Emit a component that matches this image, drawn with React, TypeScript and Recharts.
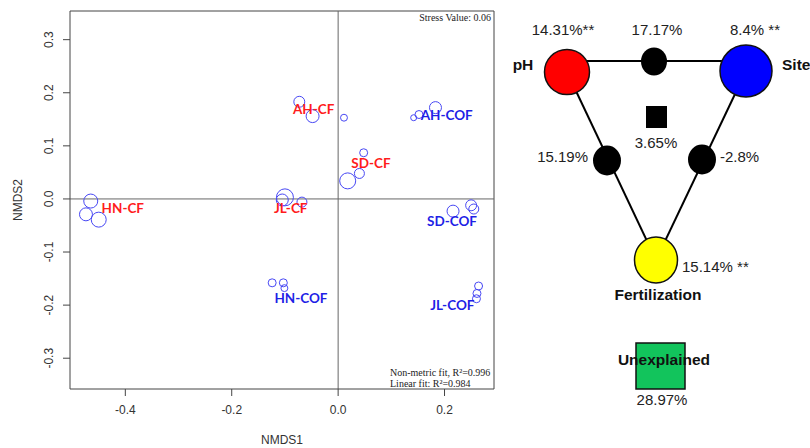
import React from "react";
import { ScatterChart, Scatter, XAxis, YAxis, ZAxis, ReferenceLine } from "recharts";

// NMDS sample scores: [NMDS1, NMDS2, weight]
const HN_CF = [[-0.465, -0.004, 49], [-0.474, -0.029, 42], [-0.45, -0.039, 56]];
const JL_CF = [[-0.1, 0.003, 72], [-0.105, -0.002, 36], [-0.068, -0.006, 25]];
const AH_CF = [[-0.073, 0.183, 30], [-0.048, 0.156, 42], [0.011, 0.153, 12]];
const SD_CF = [[0.048, 0.087, 16], [0.04, 0.048, 25], [0.018, 0.034, 64]];
const HN_COF = [[-0.124, -0.158, 16], [-0.103, -0.158, 16], [-0.101, -0.168, 12]];
const JL_COF = [[0.264, -0.164, 16], [0.261, -0.178, 16], [0.26, -0.188, 16]];
const AH_COF = [[0.142, 0.153, 9], [0.152, 0.159, 16], [0.183, 0.172, 36]];
const SD_COF = [[0.216, -0.023, 36], [0.25, -0.012, 30], [0.255, -0.019, 25]];

const groupNames = ["HN-CF", "JL-CF", "AH-CF", "SD-CF", "HN-COF", "JL-COF", "AH-COF", "SD-COF"];
const groupScores = [HN_CF, JL_CF, AH_CF, SD_CF, HN_COF, JL_COF, AH_COF, SD_COF];

const xTicks = [-0.4, -0.2, 0, 0.2];
const yTicks = [-0.3, -0.2, -0.1, 0, 0.1, 0.2, 0.3];

const stressValue = 0.06;
const nonMetricR2 = 0.996;
const linearR2 = 0.984;

// variation partitioning
const factorNames = ["pH", "Site", "Fertilization"];
const pureEffect = [14.31, 8.4, 15.14];
const pureSuffix = ["**", " **", " **"];
const sharedPhSite = 17.17;
const sharedPhFert = 15.19;
const sharedSiteFert = -2.8;
const sharedAll = 3.65;
const unexplained = 28.97;

// label nudges in px relative to group centroid
const labelNudge: Record<string, [number, number]> = {
  "HN-CF": [31, -4],
  "JL-CF": [1, 8],
  "AH-CF": [-5, -3],
  "SD-CF": [14, -6],
  "HN-COF": [21, 13],
  "JL-COF": [-25, 12],
  "AH-COF": [24, 2],
  "SD-COF": [-14, 13],
};

const X_DOMAIN: [number, number] = [-0.504, 0.293];
const Y_DOMAIN: [number, number] = [-0.358, 0.354];

const points = groupScores.flatMap((g, i) =>
  g.map(([x, y, z]) => ({ x, y, z, group: groupNames[i] }))
);

const centroids = groupScores.map((g, i) => ({
  x: g.reduce((s, p) => s + p[0], 0) / g.length,
  y: g.reduce((s, p) => s + p[1], 0) / g.length,
  group: groupNames[i],
}));

const fmt1 = (v: number) => (Math.abs(v) < 1e-9 ? "0.0" : v.toFixed(1));

const AXIS = "#444";
const SANS = "'Liberation Sans', Arial, sans-serif";
const SERIF = "'Liberation Serif', 'Times New Roman', serif";

const RingShape = (p: any) => {
  const r = p.size ? Math.sqrt(p.size / Math.PI) : 4;
  return <circle cx={p.cx} cy={p.cy} r={r} fill="none" stroke="#4848f4" strokeWidth={1} />;
};

const GroupLabel = (p: any) => {
  const name = p.payload.group;
  const [dx, dy] = labelNudge[name] || [0, 0];
  const isCF = !name.includes("COF");
  return (
    <text
      x={p.cx + dx}
      y={p.cy + dy}
      textAnchor="middle"
      dominantBaseline="central"
      fontFamily="Lato, 'Open Sans', sans-serif"
      fontWeight="bold"
      fontSize={13.5}
      fill={isCF ? "#ff1c1c" : "#1f1fe6"}
    >
      {name}
    </text>
  );
};

const YTick = (p: any) => {
  const bx = p.x - 9.5;
  return (
    <text
      x={bx}
      y={p.y}
      transform={`rotate(-90, ${bx}, ${p.y})`}
      textAnchor="middle"
      fontFamily={SANS}
      fontSize={12}
      fill="#333"
    >
      {fmt1(p.payload.value)}
    </text>
  );
};

const NmdsPlot = () => (
  <ScatterChart width={810} height={448} margin={{ top: 11, right: 316, bottom: 0, left: 30 }}>
    <XAxis
      type="number"
      dataKey="x"
      domain={X_DOMAIN}
      ticks={xTicks}
      tickFormatter={fmt1}
      allowDataOverflow
      height={59}
      tickSize={7}
      tickMargin={9}
      stroke={AXIS}
      tick={{ fill: "#333", fontSize: 12, fontFamily: SANS }}
      label={{
        content: (lp: any) => (
          <text
            x={lp.viewBox.x + lp.viewBox.width / 2}
            y={444}
            textAnchor="middle"
            fontFamily={SANS}
            fontSize={12}
            fill="#333"
          >
            NMDS1
          </text>
        ),
      }}
    />
    <YAxis
      type="number"
      dataKey="y"
      domain={Y_DOMAIN}
      ticks={yTicks}
      allowDataOverflow
      width={40}
      tickSize={7}
      tickMargin={0}
      stroke={AXIS}
      tick={<YTick />}
      label={{
        content: (lp: any) => (
          <text
            x={22}
            y={lp.viewBox.y + lp.viewBox.height / 2}
            transform={`rotate(-90, 22, ${lp.viewBox.y + lp.viewBox.height / 2})`}
            textAnchor="middle"
            fontFamily={SANS}
            fontSize={12}
            fill="#333"
          >
            NMDS2
          </text>
        ),
      }}
    />
    <ZAxis type="number" dataKey="z" domain={[0, 100]} range={[0, 100 * Math.PI]} />
    {/* plot box, top and right edges */}
    <ReferenceLine y={Y_DOMAIN[1]} stroke={AXIS} strokeWidth={1} />
    <ReferenceLine x={X_DOMAIN[1]} stroke={AXIS} strokeWidth={1} />
    <ReferenceLine x={0} stroke="#666" strokeWidth={1} />
    <ReferenceLine y={0} stroke="#666" strokeWidth={1} />
    <Scatter data={points} shape={<RingShape />} isAnimationActive={false} />
    <Scatter data={centroids} shape={<GroupLabel />} isAnimationActive={false} />
  </ScatterChart>
);

const Diagram = () => {
  const red = { x: 567, y: 72, r: 22.5 };
  const blue = { x: 746, y: 71, r: 26 };
  const yel = { x: 656, y: 260, rx: 21.5, ry: 23 };
  const txt = { fontFamily: SANS, fontSize: 15, fill: "#222" };
  const bold = { fontFamily: SANS, fontSize: 15.5, fontWeight: "bold" as const, fill: "#111" };
  return (
    <svg width={810} height={448} style={{ position: "absolute", left: 0, top: 0 }}>
      <line x1={red.x} y1={61} x2={blue.x} y2={61} stroke="#000" strokeWidth={2} />
      <line x1={red.x} y1={red.y} x2={yel.x} y2={yel.y} stroke="#000" strokeWidth={2} />
      <line x1={blue.x} y1={blue.y} x2={yel.x} y2={yel.y} stroke="#000" strokeWidth={2} />
      <circle cx={red.x} cy={red.y} r={red.r} fill="#ff0000" stroke="#111" strokeWidth={1.5} />
      <circle cx={blue.x} cy={blue.y} r={blue.r} fill="#0000ff" stroke="#111" strokeWidth={1.5} />
      <ellipse cx={yel.x} cy={yel.y} rx={yel.rx} ry={yel.ry} fill="#ffff00" stroke="#111" strokeWidth={1.5} />
      <ellipse cx={654} cy={61.5} rx={13} ry={14} fill="#000" />
      <ellipse cx={607} cy={160.5} rx={14} ry={15} fill="#000" />
      <ellipse cx={702} cy={159.5} rx={14} ry={15} fill="#000" />
      <rect x={646} y={106} width={21} height={22} fill="#000" />
      <rect x={636} y={343} width={49} height={46} fill="#12c45c" stroke="#111" strokeWidth={1.5} />

      <text x={563} y={35} textAnchor="middle" {...txt}>{`${pureEffect[0]}%${pureSuffix[0]}`}</text>
      <text x={657} y={35} textAnchor="middle" {...txt}>{`${sharedPhSite}%`}</text>
      <text x={755} y={35} textAnchor="middle" {...txt}>{`${pureEffect[1]}%${pureSuffix[1]}`}</text>
      <text x={523} y={70} textAnchor="middle" {...bold}>{factorNames[0]}</text>
      <text x={782} y={70} textAnchor="start" {...bold}>{factorNames[1]}</text>
      <text x={656} y={148} textAnchor="middle" {...txt}>{`${sharedAll}%`}</text>
      <text x={588} y={162} textAnchor="end" {...txt}>{`${sharedPhFert}%`}</text>
      <text x={720} y={162} textAnchor="start" {...txt}>{`${sharedSiteFert}%`}</text>
      <text x={682} y={272} textAnchor="start" {...txt}>{`${pureEffect[2]}%${pureSuffix[2]}`}</text>
      <text x={658} y={300} textAnchor="middle" {...bold}>{factorNames[2]}</text>
      <text x={664} y={365} textAnchor="middle" {...bold}>Unexplained</text>
      <text x={662} y={405} textAnchor="middle" {...txt}>{`${unexplained}%`}</text>

      <text x={491} y={21} textAnchor="end" fontFamily={SERIF} fontSize={10} fill="#222">
        {`Stress Value: ${stressValue}`}
      </text>
      <text x={390} y={376} fontFamily={SERIF} fontSize={10} fill="#222">
        {`Non-metric fit, R\u00b2=${nonMetricR2}`}
      </text>
      <text x={390} y={386.5} fontFamily={SERIF} fontSize={10} fill="#222">
        {`Linear fit: R\u00b2=${linearR2}`}
      </text>
    </svg>
  );
};

export default function App() {
  return (
    <div style={{ position: "absolute", left: 0, top: 0, width: 810, height: 448, background: "#fff" }}>
      <NmdsPlot />
      <Diagram />
    </div>
  );
}
